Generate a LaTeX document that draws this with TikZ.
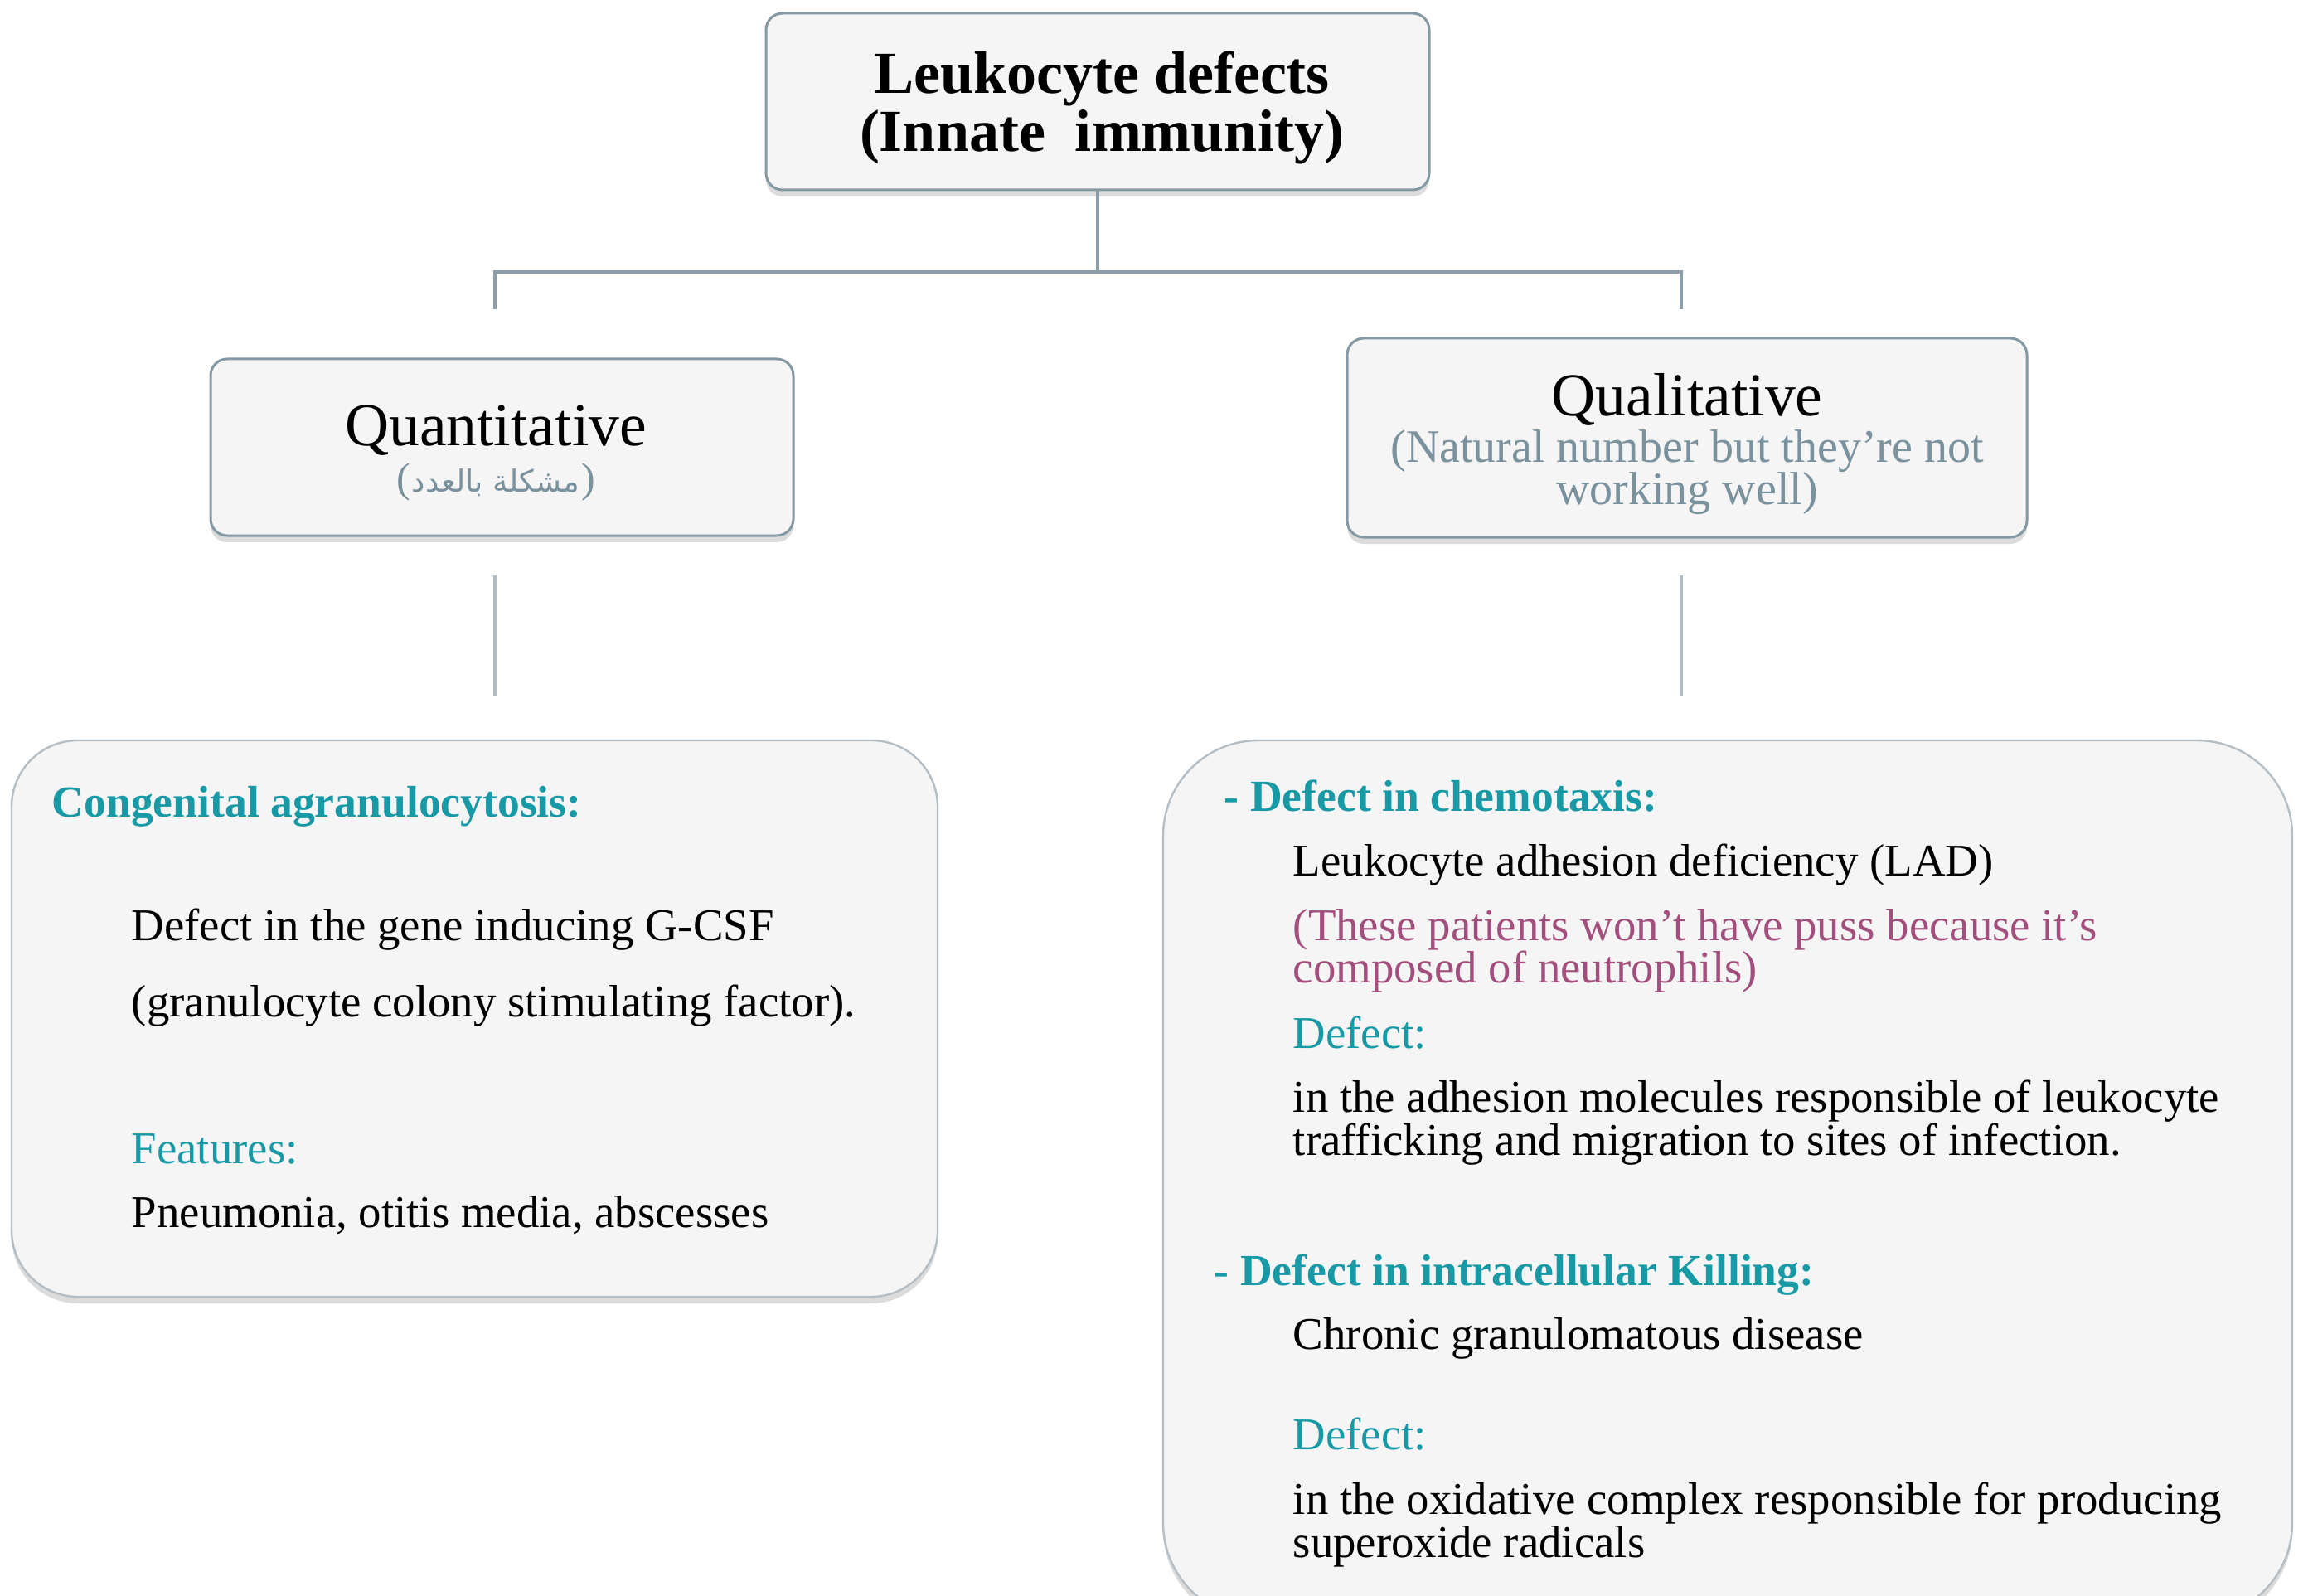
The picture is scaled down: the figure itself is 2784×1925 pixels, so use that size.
\documentclass[tikz,border=0pt]{standalone}
\usepackage{fontspec}
\setmainfont{Liberation Serif}
\newfontfamily\arabicfont[Script=Arabic]{DejaVu Sans}
\TeXXeTstate=1
\usetikzlibrary{shadows}
\definecolor{boxfill}{HTML}{F5F5F5}
\definecolor{boxline}{HTML}{8599A5}
\definecolor{boxlinelight}{HTML}{B5BEC5}
\definecolor{connA}{HTML}{8A9DA9}
\definecolor{connB}{HTML}{B0BDC5}
\definecolor{tealc}{HTML}{1799A6}
\definecolor{pinkc}{HTML}{A34F7D}
\definecolor{grayc}{HTML}{7A919E}
\tikzset{
  boxbase/.style={draw, fill=boxfill, inner sep=0pt, line width=0.75pt,
    drop shadow={shadow xshift=0pt, shadow yshift=-2pt, opacity=0.3, fill=black!45}},
  smallbox/.style={boxbase, draw=boxline, rounded corners=5pt},
  bigbox/.style={boxbase, draw=boxlinelight, line width=0.6pt},
  conntop/.style={draw=connA, line width=1pt},
  connlow/.style={draw=connB, line width=1.2pt},
  txt/.style={inner sep=0pt, anchor=base west, font=\fontsize{13.7}{13}\selectfont},
  headtxt/.style={txt, text=tealc, font=\fontsize{13.4}{13}\selectfont\bfseries},
  labtxt/.style={txt, text=tealc},
  pinktxt/.style={txt, text=pinkc},
  titletxt/.style={inner sep=0pt, anchor=base, font=\fontsize{18}{17}\selectfont\bfseries},
  cattxt/.style={inner sep=0pt, anchor=base, font=\fontsize{18.4}{17}\selectfont},
  subtxt/.style={inner sep=0pt, anchor=base, text=grayc, font=\fontsize{14}{13}\selectfont},
}
\begin{document}
\begin{tikzpicture}[x=0.25pt,y=-0.25pt]
\useasboundingbox (0,0) rectangle (2784,1925);
\clip (0,0) rectangle (2784,1925);
\fill[white] (0,0) rectangle (2784,1925);

% boxes
\node[smallbox, minimum width=200pt, minimum height=53.25pt] (top) at (1324,122.5) {};
\node[smallbox, minimum width=175.75pt, minimum height=53.25pt] (quant) at (605.5,539.5) {};
\node[smallbox, minimum width=205pt, minimum height=60pt] (qual) at (2035,528) {};
\node[bigbox, rounded corners=20pt, minimum width=279.25pt, minimum height=167.75pt] (lbox) at (572.5,1228.5) {};
\node[bigbox, rounded corners=28.75pt, minimum width=340.5pt, minimum height=264.75pt] (rbox) at (2084,1422.5) {};

% connectors
\coordinate (hb) at (1324,328);
\coordinate (lq) at (597,373);
\coordinate (rq) at (2028,373);
\draw[conntop] (top.south) -- (hb);
\draw[conntop] (lq) |- (hb) -| (rq);
\coordinate (la) at (597,694);
\coordinate (lb) at (597,840);
\coordinate (ra) at (2028,694);
\coordinate (rb) at (2028,840);
\draw[connlow] (la) -- (lb);
\draw[connlow] (ra) -- (rb);

% top texts
\node[titletxt] (t1) at (1329,113) {Leukocyte defects};
\node[titletxt] (t2) at (1329,183) {(Innate\ \ immunity)};

\node[cattxt] (qn) at (598,538) {Quantitative};
\node[subtxt, font=\fontsize{12.5}{13}\selectfont] (qnar) at (598,594) {(\kern0.5pt{\arabicfont\fontsize{9.2}{12}\selectfont\beginR مشكلة بالعدد\endR}\kern0.5pt)};

\node[cattxt] (ql) at (2035,502) {Qualitative};
\node[subtxt] (ql1) at (2035,557) {(Natural number but they're not};
\node[subtxt] (ql2) at (2035,609) {working well)};

% left box texts
\node[headtxt] (l1) at (62,985) {Congenital agranulocytosis:};
\node[txt] (l2) at (158,1134) {Defect in the gene inducing G-CSF};
\node[txt] (l3) at (158,1226) {(granulocyte colony stimulating factor).};
\node[labtxt] (l4) at (158,1403) {Features:};
\node[txt] (l5) at (158,1480) {Pneumonia, otitis media, abscesses};

% right box texts
\node[headtxt] (r1) at (1476,978) {- Defect in chemotaxis:};
\node[txt] (r2) at (1559,1056) {Leukocyte adhesion deficiency (LAD)};
\node[pinktxt] (r3) at (1559,1134) {(These patients won’t have puss because it’s};
\node[pinktxt] (r4) at (1559,1185) {composed of neutrophils)};
\node[labtxt] (r5) at (1559,1264) {Defect:};
\node[txt] (r6) at (1559,1341) {in the adhesion molecules responsible of leukocyte};
\node[txt] (r7) at (1559,1393) {trafficking and migration to sites of infection.};
\node[headtxt] (r8) at (1464,1550) {- Defect in intracellular Killing:};
\node[txt] (r9) at (1559,1627) {Chronic granulomatous disease};
\node[labtxt] (r10) at (1559,1748) {Defect:};
\node[txt] (r11) at (1559,1826) {in the oxidative complex responsible for producing};
\node[txt] (r12) at (1559,1878) {superoxide radicals};
\end{tikzpicture}
\end{document}
